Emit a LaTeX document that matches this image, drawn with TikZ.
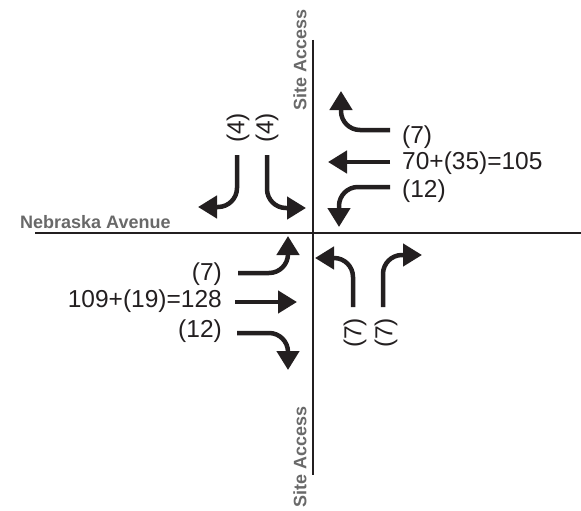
\documentclass[tikz,border=0pt]{standalone}
\usepackage{fontspec}
\setmainfont{Liberation Sans}
\usetikzlibrary{arrows.meta}
\definecolor{ink}{RGB}{35,31,32}
\definecolor{roadgray}{RGB}{105,105,105}

\begin{document}
\begin{tikzpicture}[x=1pt, y=-1pt,
  road/.style={ink, line width=2.8pt},
  move/.style={ink, line width=4.5pt, rounded corners=19pt,
    -{Triangle[length=19pt,width=22pt]}},
  vol/.style={inner sep=0pt, text=ink, font=\fontsize{24.5}{28}\selectfont},
  street/.style={inner sep=0pt, text=roadgray,
    font=\fontsize{18}{21}\selectfont\bfseries}]
  \useasboundingbox (0,0) rectangle (581,511);

  % roads
  \draw[road] (35,233) -- (581,233);
  \draw[road] (313,40) -- (313,475);
  \node[street, anchor=base west] (nebraska) at (20,228) {Nebraska Avenue};
  \node[street, rotate=90] (siteN) at (300,60) {Site Access};
  \node[street, rotate=90] (siteS) at (300,457) {Site Access};

  % westbound
  \draw[move] (390,130) -| (341,91);
  \draw[move] (390,162) -- (328,162);
  \draw[move] (390,187) -| (339,227);
  \node[vol, anchor=west] (wbR) at (402,137) {(7)};
  \node[vol, anchor=west] (wbT) at (402,163) {70+(35)=105};
  \node[vol, anchor=west] (wbL) at (402,191) {(12)};

  % eastbound
  \draw[move] (238,273) -| (288,236);
  \draw[move] (235,302) -- (297,302);
  \draw[move] (237,333) -| (288,370);
  \node[vol, anchor=east] (ebL) at (222,274) {(7)};
  \node[vol, anchor=east] (ebT) at (222,301) {109+(19)=128};
  \node[vol, anchor=east] (ebR) at (222,331) {(12)};

  % southbound
  \draw[move] (237,155) |- (198,207);
  \draw[move] (267,155) |- (306,208);
  \foreach \x/\n in {238/R, 267/L}
    \node[vol, rotate=90] (sb\n) at (\x,128) {(4)};

  % northbound
  \draw[move] (353,307) |- (315,258);
  \draw[move] (383,307) |- (422,255);
  \foreach \x/\n in {355/L, 386/R}
    \node[vol, rotate=90] (nb\n) at (\x,333) {(7)};
\end{tikzpicture}
\end{document}
